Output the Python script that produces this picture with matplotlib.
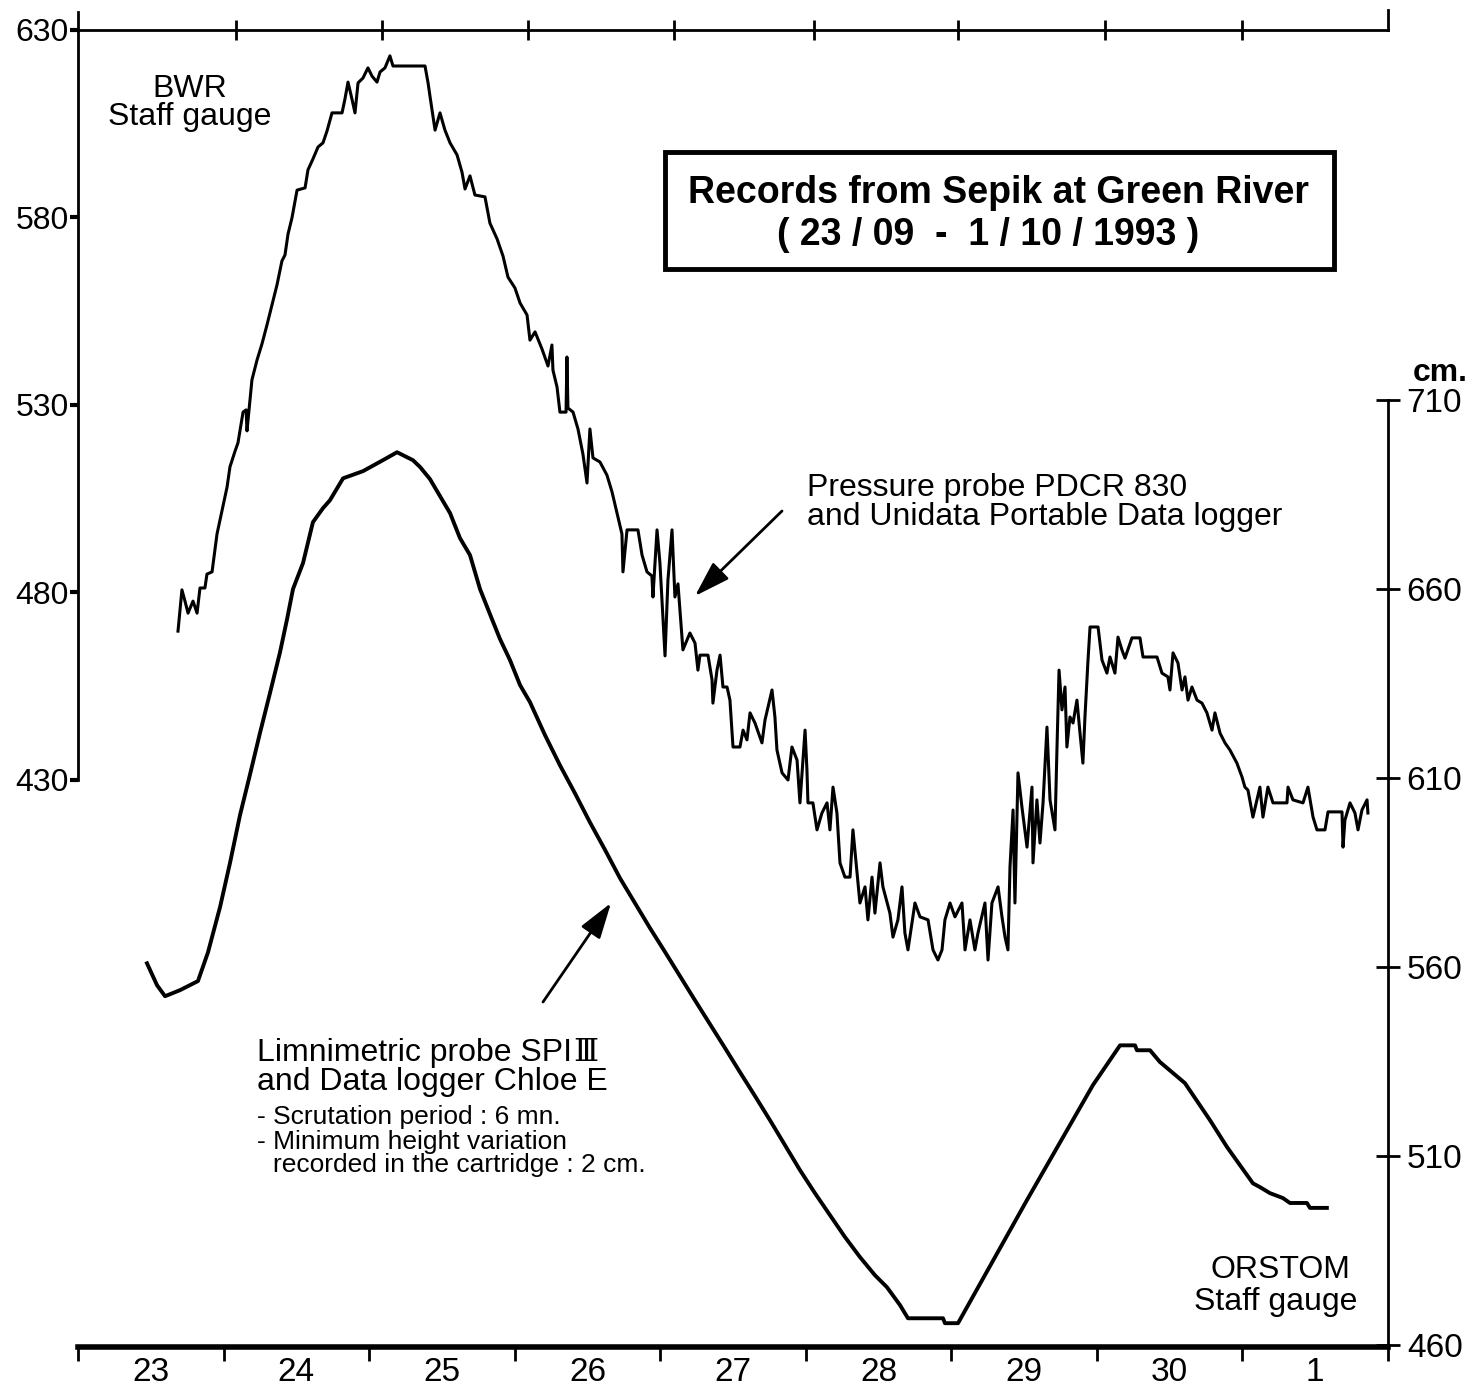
import matplotlib
matplotlib.use("Agg")
import matplotlib.pyplot as plt
from matplotlib.patches import Rectangle, FancyArrowPatch

plt.rcParams['font.family'] = ['Liberation Sans', 'DejaVu Sans']

# ---------------- data ----------------
day_labels = ["23", "24", "25", "26", "27", "28", "29", "30", "1"]
left_ticks = [430, 480, 530, 580, 630]          # BWR staff gauge (cm)
right_ticks = [460, 510, 560, 610, 660, 710]    # ORSTOM staff gauge (cm)
top_tick_days = [1.085, 2.09, 3.09, 4.095, 5.055, 6.045, 7.055, 8.0]

# Pressure probe PDCR 830 (days since 23/09 00:00, BWR gauge cm)
pdcr_day = [0.687, 0.714, 0.735, 0.756, 0.790, 0.818, 0.838, 0.872, 0.886, 0.921,
            0.955, 0.989, 1.024, 1.044, 1.079, 1.099, 1.134, 1.155, 1.161, 1.175,
            1.195, 1.230, 1.264, 1.298, 1.333, 1.367, 1.401, 1.422, 1.443, 1.470,
            1.505, 1.560, 1.580, 1.614, 1.649, 1.683, 1.711, 1.745, 1.814, 1.834,
            1.855, 1.882, 1.903, 1.924, 1.958, 1.992, 2.020, 2.054, 2.075, 2.109,
            2.143, 2.164, 2.384, 2.405, 2.418, 2.453, 2.487, 2.521, 2.556, 2.604,
            2.638, 2.659, 2.693, 2.727, 2.796, 2.830, 2.879, 2.920, 2.954, 3.002,
            3.037, 3.085, 3.105, 3.140, 3.188, 3.229, 3.256, 3.263, 3.291, 3.311,
            3.353, 3.359, 3.366, 3.401, 3.435, 3.469, 3.497, 3.517, 3.538, 3.586,
            3.634, 3.669, 3.703, 3.737, 3.744, 3.772, 3.847, 3.875, 3.909, 3.943,
            3.950, 3.978, 3.998, 4.033, 4.053, 4.081, 4.101, 4.122, 4.156, 4.204,
            4.239, 4.259, 4.273, 4.328, 4.356, 4.362, 4.390, 4.411, 4.431, 4.459,
            4.479, 4.500, 4.548, 4.569, 4.596, 4.617, 4.651, 4.699, 4.720, 4.768,
            4.788, 4.802, 4.837, 4.878, 4.905, 4.940, 4.960, 4.995, 5.008, 5.015,
            5.049, 5.077, 5.111, 5.146, 5.166, 5.187, 5.214, 5.235, 5.269, 5.304,
            5.324, 5.352, 5.372, 5.407, 5.427, 5.455, 5.475, 5.510, 5.530, 5.578,
            5.599, 5.633, 5.661, 5.681, 5.702, 5.750, 5.785, 5.840, 5.874, 5.908,
            5.936, 5.956, 5.991, 6.025, 6.073, 6.094, 6.128, 6.162, 6.183, 6.231,
            6.252, 6.279, 6.321, 6.348, 6.369, 6.389, 6.403, 6.424, 6.437, 6.458,
            6.485, 6.520, 6.554, 6.561, 6.588, 6.609, 6.630, 6.657, 6.678, 6.712,
            6.726, 6.740, 6.760, 6.781, 6.794, 6.815, 6.836, 6.863, 6.884, 6.904,
            6.918, 6.939, 6.953, 7.008, 7.035, 7.069, 7.090, 7.124, 7.145, 7.172,
            7.193, 7.241, 7.296, 7.317, 7.413, 7.447, 7.488, 7.502, 7.523, 7.557,
            7.585, 7.605, 7.626, 7.653, 7.688, 7.722, 7.756, 7.791, 7.811, 7.846,
            7.880, 7.914, 7.962, 7.997, 8.017, 8.038, 8.072, 8.120, 8.141, 8.175,
            8.210, 8.306, 8.313, 8.347, 8.416, 8.450, 8.485, 8.512, 8.567, 8.588,
            8.684, 8.691, 8.704, 8.739, 8.773, 8.794, 8.821, 8.856, 8.862]
pdcr_cm = [469.7, 480.7, 477.7, 474.5, 477.7, 474.5, 481.2, 481.2, 484.9, 485.5,
           495.6, 501.7, 508.1, 513.5, 517.7, 519.9, 528.1, 528.7, 523.1, 528.7,
           536.7, 542.0, 546.3, 551.3, 556.7, 562.0, 568.4, 570.0, 575.6, 579.9,
           587.3, 587.9, 592.7, 595.6, 598.8, 599.9, 603.1, 607.9, 607.9, 611.6,
           616.1, 611.6, 607.9, 615.9, 617.2, 619.9, 617.7, 616.1, 618.8, 619.9,
           623.1, 620.4, 620.4, 615.9, 612.4, 603.3, 607.9, 603.3, 599.9, 596.7,
           592.1, 587.6, 591.1, 586.0, 585.5, 578.5, 574.3, 569.7, 564.1, 561.2,
           557.2, 554.0, 547.3, 549.5, 544.9, 540.4, 546.0, 539.3, 534.8, 528.1,
           528.1, 542.8, 529.2, 528.1, 523.6, 516.9, 509.2, 523.6, 515.9, 514.8,
           511.3, 506.8, 501.2, 495.6, 485.5, 496.7, 496.7, 490.0, 485.5, 484.4,
           478.8, 496.7, 487.9, 463.1, 483.3, 496.7, 478.8, 482.3, 464.7, 469.2,
           466.5, 459.3, 463.3, 463.3, 456.7, 450.5, 459.3, 463.3, 454.8, 454.8,
           451.3, 438.8, 438.8, 443.3, 440.7, 447.9, 445.2, 439.9, 446.0, 454.0,
           446.8, 438.0, 431.9, 430.0, 438.8, 435.3, 423.9, 443.3, 432.7, 423.9,
           423.9, 416.7, 421.2, 423.9, 416.7, 428.1, 421.2, 407.9, 404.1, 404.1,
           416.7, 405.2, 397.2, 401.5, 392.7, 404.1, 394.5, 407.9, 401.5, 394.5,
           388.1, 392.7, 401.5, 389.2, 384.7, 397.2, 393.5, 392.7, 384.7, 382.0,
           384.7, 392.7, 397.2, 393.5, 397.2, 384.7, 392.7, 384.7, 389.2, 397.2,
           382.0, 397.2, 401.5, 393.5, 388.1, 384.7, 406.8, 422.0, 397.2, 431.9,
           422.8, 412.1, 428.1, 407.9, 424.7, 413.2, 423.9, 444.1, 424.7, 416.7,
           438.8, 459.3, 448.7, 454.8, 438.8, 446.8, 445.2, 451.3, 442.5, 434.5,
           446.8, 462.0, 470.8, 470.8, 462.0, 458.5, 462.8, 458.5, 468.1, 464.7,
           462.5, 467.9, 467.9, 462.8, 462.8, 458.5, 457.5, 454.0, 463.9, 461.2,
           454.0, 457.5, 451.3, 454.8, 451.3, 450.5, 447.9, 443.3, 447.9, 442.5,
           439.9, 438.0, 434.5, 430.8, 428.1, 427.3, 420.1, 428.1, 420.1, 428.1,
           423.9, 423.9, 428.1, 424.7, 423.9, 428.1, 420.1, 416.7, 416.7, 421.5,
           421.5, 412.1, 419.3, 423.9, 421.2, 416.7, 422.0, 424.7, 421.2]

# Limnimetric probe SPI III (days since 23/09 00:00, ORSTOM gauge cm)
spi_day = [0.474, 0.543, 0.598, 0.701, 0.824, 0.893, 0.976, 1.044, 1.113, 1.182,
           1.250, 1.319, 1.388, 1.436, 1.477, 1.546, 1.614, 1.683, 1.731, 1.821,
           1.958, 2.095, 2.192, 2.301, 2.350, 2.418, 2.487, 2.556, 2.624, 2.693,
           2.762, 2.830, 2.899, 2.968, 3.037, 3.105, 3.208, 3.311, 3.414, 3.517,
           3.621, 3.724, 3.827, 3.930, 4.033, 4.136, 4.239, 4.342, 4.445, 4.548,
           4.651, 4.754, 4.857, 4.960, 5.063, 5.166, 5.269, 5.372, 5.475, 5.558,
           5.647, 5.702, 5.943, 5.956, 6.046, 6.520, 6.973, 7.159, 7.262, 7.275,
           7.365, 7.433, 7.605, 7.777, 7.894, 8.072, 8.120, 8.189, 8.278, 8.326,
           8.443, 8.464, 8.580]
spi_cm = [561.0, 555.2, 552.3, 553.9, 556.3, 563.9, 575.9, 587.5, 600.2, 611.0,
          621.9, 632.5, 643.3, 652.0, 660.0, 666.9, 677.7, 681.4, 683.5, 689.3,
          691.2, 694.1, 696.2, 694.1, 692.3, 689.1, 684.6, 680.1, 673.5, 669.0,
          660.0, 653.4, 646.8, 641.2, 634.6, 630.1, 621.4, 613.4, 606.0, 598.3,
          591.0, 583.5, 576.9, 570.3, 564.0, 557.6, 551.2, 544.9, 538.6, 532.2,
          525.9, 519.5, 512.9, 506.3, 500.2, 494.4, 488.6, 483.3, 478.5, 475.3,
          470.6, 467.1, 467.1, 465.8, 465.8, 498.4, 528.8, 539.3, 539.3, 538.0,
          538.0, 534.9, 529.3, 519.5, 512.4, 502.8, 501.8, 500.2, 498.9, 497.6,
          497.6, 496.3, 496.3]

# ---------------- figure ----------------
W, H = 1474, 1391
fig = plt.figure(figsize=(W / 100, H / 100), dpi=100)
fig.patch.set_facecolor('white')


def fx(px):
    return px / W


def fy(py):
    return 1 - py / H


ax = fig.add_axes([fx(78), 1 - 1347 / H, 1310 / W, 1317 / H])
ax.set_xlim(0, 9)
ax.set_ylim(278.8, 630)
ax.patch.set_alpha(0)

ax2 = ax.twinx()
ax2.set_ylim(459.5, 807.9)

ax.plot(pdcr_day, pdcr_cm, color='black', lw=2.2)
ax2.plot(spi_day, spi_cm, color='black', lw=2.8)

# spines
ax.spines['right'].set_visible(False)
ax.spines['top'].set_visible(False)
ax.spines['left'].set_bounds(430, 634.8)
ax.spines['left'].set_linewidth(2)
ax.spines['bottom'].set_linewidth(4)
for s in ['left', 'top', 'bottom']:
    ax2.spines[s].set_visible(False)
ax2.spines['right'].set_bounds(459.5, 710)
ax2.spines['right'].set_linewidth(2)

# left axis
ax.set_yticks(left_ticks)
ax.set_yticklabels([str(v) for v in left_ticks])
ax.tick_params(axis='y', direction='out', length=6, width=3, labelsize=23, pad=0.5)

# bottom axis
ax.set_xticks(range(10))
ax.set_xticklabels([])
ax.set_xticks([i + 0.5 for i in range(9)], minor=True)
ax.set_xticklabels(day_labels, minor=True)
ax.tick_params(axis='x', which='major', direction='out', length=10, width=2)
ax.tick_params(axis='x', which='minor', length=0, labelsize=24, pad=7)

# top axis
top = ax.secondary_xaxis('top')
top.set_xticks(top_tick_days)
top.set_xticklabels([])
top.tick_params(direction='inout', length=15, width=2)
top.spines['top'].set_linewidth(2)
ax.plot([9, 9], [630, 635.3], color='black', lw=2, clip_on=False)

# right axis
ax2.set_yticks(right_ticks)
ax2.set_yticklabels([str(v) for v in right_ticks])
ax2.tick_params(axis='y', direction='inout', length=17, width=2, labelsize=24, pad=5)

fig.text(fx(1440), fy(381), "cm.", fontsize=23, fontweight='bold', ha='center',
         va='baseline')

# title box
fig.add_artist(Rectangle((fx(665), fy(269)), (1334 - 665) / W, (269 - 152) / H,
                         transform=fig.transFigure, fill=False, lw=3.5, ec='black'))
fig.text(fx(998), fy(203), "Records from Sepik at Green River", fontsize=27,
         fontweight='bold', ha='center', va='baseline')
fig.text(fx(988), fy(245), "( 23 / 09  -  1 / 10 / 1993 )", fontsize=27,
         fontweight='bold', ha='center', va='baseline')


def line(px, py, s, size=23, ha='left', **kw):
    return fig.text(fx(px), fy(py), s, fontsize=size, ha=ha, va='baseline', **kw)


# labels
line(190, 97, "BWR", ha='center')
line(190, 125, "Staff gauge", ha='center')
line(1280, 1278, "ORSTOM", ha='center')
line(1276, 1310, "Staff gauge", ha='center')
line(807, 496, "Pressure probe PDCR 830")
line(807, 525, "and Unidata Portable Data logger")
t_spi = line(257, 1061, "Limnimetric probe SPI")
line(257, 1090, "and Data logger Chloe E")
line(257, 1124, "- Scrutation period : 6 mn.", size=19)
line(257, 1149, "- Minimum height variation", size=19)
line(273, 1172, "recorded in the cartridge : 2 cm.", size=19)

fig.canvas.draw()
bb = t_spi.get_window_extent()
fig.text((bb.x1 + 1) / W, fy(1061), "\u2162", fontsize=23, family='DejaVu Serif',
         ha='left', va='baseline')

# arrows
ap = dict(arrowstyle='-|>,head_length=1.1,head_width=0.35', lw=2, color='black',
          shrinkA=0, shrinkB=0, mutation_scale=20)
fig.add_artist(FancyArrowPatch((fx(782), fy(511)), (fx(695), fy(596)),
                               transform=fig.transFigure, **ap))
fig.add_artist(FancyArrowPatch((fx(543), fy(1002)), (fx(611), fy(903)),
                               transform=fig.transFigure, **ap))

fig.savefig("out.png", dpi=100, facecolor='white')
